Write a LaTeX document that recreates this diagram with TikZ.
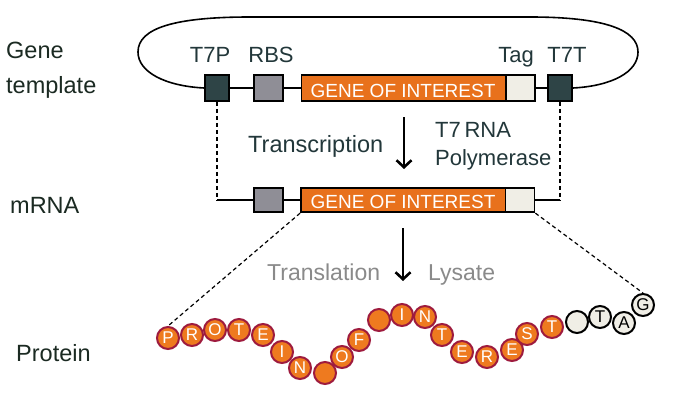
\documentclass[tikz,border=0pt]{standalone}
\usepackage{fontspec}
\setmainfont{Liberation Sans}
\usetikzlibrary{arrows.meta}
\definecolor{geneorange}{HTML}{E8711C}
\definecolor{beadorange}{HTML}{EE7A1F}
\definecolor{beadrim}{HTML}{9E1B3E}
\definecolor{slate}{HTML}{2E4446}
\definecolor{rbsgray}{HTML}{8F8E96}
\definecolor{tagfill}{HTML}{F0EEE6}
\definecolor{labeltxt}{HTML}{22373A}
\definecolor{sidetxt}{HTML}{1B2A22}
\definecolor{softgray}{HTML}{8A8A8A}
\begin{document}
\begin{tikzpicture}[x=1pt,y=-1pt,
  box/.style={rectangle,draw=black,line width=1.8pt,inner sep=0pt,minimum height=26pt},
  mbox/.style={box,minimum height=24.5pt},
  genetext/.style={text=white,font=\fontsize{19}{20}\selectfont},
  toplabel/.style={anchor=base,text=labeltxt,font=\fontsize{22}{24}\selectfont,inner sep=0pt},
  sidelabel/.style={anchor=base west,text=sidetxt,font=\fontsize{23.5}{26}\selectfont,inner sep=0pt},
  proclabel/.style={anchor=base west,inner sep=0pt},
  wire/.style={line width=1.6pt,black},
  dashline/.style={line width=1.2pt,black,dash pattern=on 4pt off 3pt},
  bigarrow/.style={line width=2.6pt,-{Straight Barb[length=7pt,width=15pt,line width=2.6pt]}},
  bead/.style={circle,minimum size=22pt,inner sep=0pt,line width=2pt,draw=beadrim,fill=beadorange,text=white,font=\fontsize{17}{17}\selectfont},
  tagbead/.style={bead,draw=black,fill=tagfill,text=black}
]
\useasboundingbox[fill=white] (0,0) rectangle (700,412);

% ---- gene template row ----
\node[box,fill=slate,minimum width=24pt] (t7p) at (217,88) {};
\node[box,fill=rbsgray,minimum width=29pt] (rbs1) at (268.5,88) {};
\node[box,fill=geneorange,minimum width=204.5pt] (gene1) at (403.75,88) {};
\node[box,fill=tagfill,minimum width=29pt] (tag1) at (520.5,88) {};
\node[box,fill=slate,minimum width=24pt] (t7t) at (560,88) {};
\node[genetext,anchor=base,inner sep=0pt] (g1txt) at (403,97) {GENE OF INTEREST};

\draw[wire] (t7p.east) -- (rbs1.west);
\draw[wire] (rbs1.east) -- (gene1.west);
\draw[wire] (tag1.east) -- (t7t.west);
\draw[wire] (t7p.west) .. controls (165,86) and (138,72) .. (138,52)
  .. controls (138,28) and (175,17) .. (250,17) -- (530,17)
  .. controls (605,17) and (638,30) .. (638,52)
  .. controls (638,72) and (612,86) .. (t7t.east);

\node[toplabel] (lt7p) at (210,63) {T7P};
\node[toplabel] (lrbs) at (271,63) {RBS};
\node[toplabel] (ltag) at (516,63) {Tag};
\node[toplabel] (lt7t) at (567,63) {T7T};

% ---- mRNA row ----
\node[mbox,fill=rbsgray,minimum width=29pt] (rbs2) at (268.5,200) {};
\node[mbox,fill=geneorange,minimum width=204.5pt] (gene2) at (403.25,200) {};
\node[mbox,fill=tagfill,minimum width=29pt] (tag2) at (520,200) {};
\node[genetext,anchor=base,inner sep=0pt] (g2txt) at (403,208) {GENE OF INTEREST};

\coordinate (mL) at (217,200);
\coordinate (mR) at (560,200);
\draw[dashline] (t7p.south) -- (mL);
\draw[dashline] (t7t.south) -- (mR);
\draw[wire] (mL) -- (rbs2.west);
\draw[wire] (rbs2.east) -- (gene2.west);
\draw[wire] (tag2.east) -- (mR);

% ---- arrows and process labels ----
\coordinate (a1s) at (404,117);
\coordinate (a1e) at (404,169);
\draw[bigarrow] (a1s) -- (a1e);
\node[proclabel,text=labeltxt,font=\fontsize{23.5}{26}\selectfont] (trc) at (248,152) {Transcription};
\node[proclabel,text=labeltxt,font=\fontsize{22}{24}\selectfont] (t7rna) at (435,137) {T7\,RNA};
\node[proclabel,text=labeltxt,font=\fontsize{22}{24}\selectfont] (poly) at (435,165) {Polymerase};

\coordinate (a2s) at (403,228);
\coordinate (a2e) at (403,281);
\draw[bigarrow] (a2s) -- (a2e);
\node[proclabel,text=softgray,font=\fontsize{23}{26}\selectfont] (trl) at (267,280) {Translation};
\node[proclabel,text=softgray,font=\fontsize{23}{26}\selectfont] (lys) at (428,280) {Lysate};

% ---- side labels ----
\node[sidelabel] (sg1) at (6,59) {Gene};
\node[sidelabel] (sg2) at (6,93) {template};
\node[sidelabel] (sm) at (10,213) {mRNA};
\node[sidelabel] (sp) at (16,361) {Protein};

% ---- protein beads ----
\coordinate (pP) at (168,326);
\coordinate (pG) at (643,293);
\draw[dashline] (gene2.south west) -- (pP);
\draw[dashline] (tag2.south east) -- (pG);

\node[bead] (b1) at (168,338) {P};
\node[bead] (b2) at (192,335) {R};
\node[bead] (b3) at (215,330) {O};
\node[bead] (b4) at (239,330) {T};
\node[bead] (b5) at (263,335) {E};
\node[bead] (b6) at (282,352) {I};
\node[bead] (b7) at (300,368) {N};
\node[bead] (b8) at (325,373) {};
\node[bead] (b9) at (342,357) {O};
\node[bead] (b10) at (359,340) {F};
\node[bead] (b11) at (379,320) {};
\node[bead] (b12) at (402,315) {I};
\node[bead] (b13) at (425,317) {N};
\node[bead] (b14) at (442,335) {T};
\node[bead] (b15) at (462,352) {E};
\node[bead] (b16) at (487,357) {R};
\node[bead] (b17) at (512,350) {E};
\node[bead] (b18) at (527,334) {S};
\node[bead] (b19) at (552,327) {T};
\node[tagbead] (b20) at (577,322) {};
\node[tagbead] (b21) at (600,317) {T};
\node[tagbead] (b22) at (624,323) {A};
\node[tagbead] (b23) at (643,305) {G};
\end{tikzpicture}
\end{document}
